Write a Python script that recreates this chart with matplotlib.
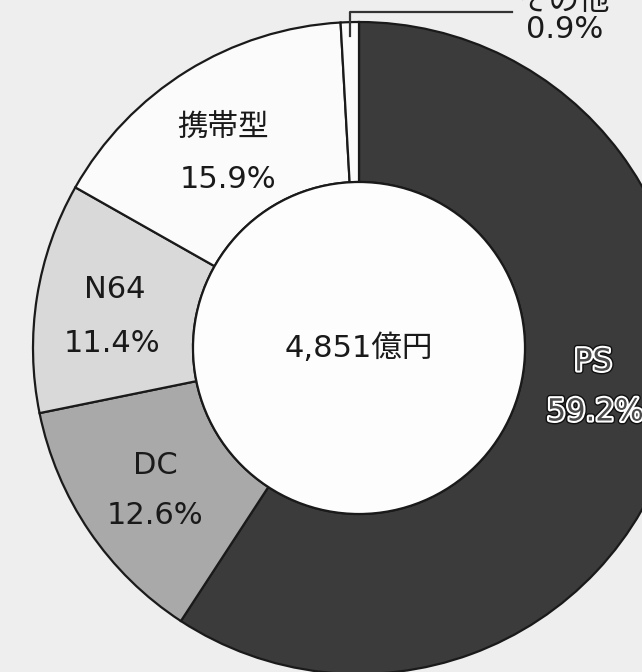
import matplotlib
matplotlib.use("Agg")
import matplotlib.pyplot as plt
import matplotlib.patheffects as pe

plt.rcParams['font.family'] = ['DejaVu Sans', 'Noto Sans CJK JP']

categories = ['PS', 'DC', 'N64', '携帯型', 'その他']
shares = [59.2, 12.6, 11.4, 15.9, 0.9]
pct_labels = ['59.2%', '12.6%', '11.4%', '15.9%', '0.9%']
colors = ['#3b3b3b', '#a9a9a9', '#d9d9d9', '#fbfbfb', '#fbfbfb']
total_label = '4,851億円'

W, H = 642, 672
fig = plt.figure(figsize=(W / 100, H / 100), dpi=100)
fig.patch.set_facecolor('#eeeeee')
ax = fig.add_axes([0, 0, 1, 1])
ax.set_facecolor('#eeeeee')

cx, cy = 359, H - 348
R_out, R_in = 326, 166

ax.pie(shares, colors=colors, startangle=90, counterclock=False,
       center=(cx, cy), radius=R_out,
       wedgeprops=dict(width=R_out - R_in, edgecolor='#1a1a1a', linewidth=1.6))
# inner white disk
ax.add_patch(plt.Circle((cx, cy), R_in, facecolor='#fdfdfd', edgecolor='#1a1a1a', linewidth=1.6, zorder=3))

ax.set_xlim(0, W)
ax.set_ylim(0, H)
ax.set_aspect('equal')
ax.axis('off')

fs = 22
# label positions (image pixel coordinates: name line, pct line)
pos = {
    'PS': ((593, 362), (595, 412)),
    'DC': ((155, 465), (155, 515)),
    'N64': ((115, 290), (112, 343)),
    '携帯型': ((223, 127), (228, 180)),
}
for cat, pct in zip(categories, pct_labels):
    if cat not in pos:
        continue
    (x1, y1), (x2, y2) = pos[cat]
    if cat == 'PS':
        eff = [pe.Stroke(linewidth=5, foreground='#111111'),
               pe.Stroke(linewidth=3, foreground='white'), pe.Normal()]
        kw = dict(color='#4a4a4a', path_effects=eff)
    else:
        kw = dict(color='#1a1a1a')
    ax.text(x1, H - y1, cat, ha='center', va='center', fontsize=fs, zorder=5, **kw)
    ax.text(x2, H - y2, pct, ha='center', va='center', fontsize=fs, zorder=5, **kw)

ax.text(cx, cy, total_label, ha='center', va='center', fontsize=fs, color='#1a1a1a', zorder=5)

# その他 leader line and label
ax.plot([350, 350, 512], [H - 36, H - 12, H - 12], color='#333333', lw=1.6, zorder=6)
ax.text(565, H - 1, categories[4], ha='center', va='center', fontsize=fs, color='#1a1a1a', zorder=5)
ax.text(565, H - 30, pct_labels[4], ha='center', va='center', fontsize=fs, color='#1a1a1a', zorder=5)

fig.savefig('out.png', dpi=100, facecolor=fig.get_facecolor())
